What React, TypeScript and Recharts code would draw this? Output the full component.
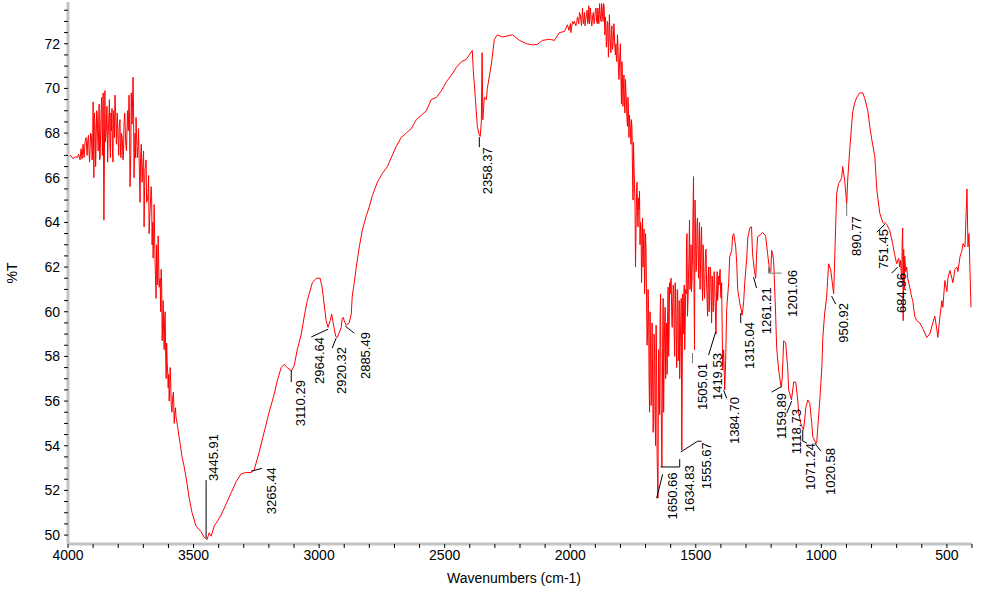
import { LineChart, Line, XAxis, YAxis, ReferenceLine, ReferenceDot } from 'recharts'

const FONT = '"Liberation Sans", Arial, sans-serif'

// [wavenumber cm-1, %T], high to low wavenumber
const noisyEdge: [number, number][] = [
  [4000, 66.9], [3990, 67.0], [3980, 66.85], [3970, 66.95], [3962, 66.9], [3958, 67.05], [3952, 66.8],
  [3948, 67.3], [3944, 66.85], [3940, 67.5], [3936, 66.9], [3932, 67.6], [3928, 67.8], [3924, 67.0],
  [3918, 67.9], [3914, 66.7], [3910, 68.0], [3904, 66.8], [3900, 69.4], [3897, 66.0], [3892, 68.3],
  [3888, 67.5], [3884, 68.9], [3880, 67.2], [3876, 69.3], [3872, 66.9], [3866, 69.6], [3860, 69.8],
  [3857, 64.1], [3853, 69.9], [3848, 68.0], [3842, 66.7], [3838, 68.5], [3833, 67.4], [3829, 68.9],
  [3825, 69.1], [3821, 66.7], [3817, 68.5], [3813, 69.7], [3807, 67.5], [3801, 67.9], [3796, 68.3],
  [3791, 67.2], [3787, 68.0], [3781, 66.8], [3777, 68.4], [3770, 67.5], [3763, 69.0], [3757, 69.7],
  [3753, 65.6], [3748, 69.8], [3741, 70.5], [3737, 66.0], [3733, 68.0], [3729, 68.7], [3724, 66.9],
  [3719, 68.2], [3713, 64.9], [3708, 67.5], [3701, 66.8], [3697, 63.8], [3693, 66.4], [3689, 66.8],
  [3684, 65.0], [3681, 65.3], [3677, 63.5], [3669, 65.6], [3665, 63.0], [3661, 62.4], [3657, 64.8],
  [3649, 60.6], [3645, 62.0], [3641, 63.4], [3637, 61.1], [3633, 61.5], [3629, 61.9], [3625, 58.7],
  [3621, 60.5], [3617, 58.3], [3613, 60.0], [3609, 57.0], [3605, 57.7], [3601, 56.6], [3597, 56.0],
  [3593, 57.5], [3589, 55.8], [3583, 56.2], [3577, 55.0], [3572, 55.7], [3570, 55.3], [3564, 54.9],
  [3558, 54.4], [3552, 54.0], [3546, 53.5],
]

// in-between wiggles of the noisy stretches
const edgeWiggles: [number, number][] = [
  [3934, 67.2], [3926, 67.4], [3921, 67.7], [3916, 67.1], [3907, 67.9], [3902, 67.2], [3895, 68.9],
  [3890, 66.5], [3886, 69.0], [3878, 68.2], [3874, 66.8], [3869, 68.6], [3863, 67.0], [3851, 67.6],
  [3845, 69.2], [3840, 67.9], [3835, 69.5], [3831, 66.9], [3827, 68.1], [3823, 67.3], [3819, 69.0],
  [3815, 67.8], [3810, 68.8], [3804, 68.9], [3798, 67.0], [3793, 68.6], [3789, 66.9], [3784, 67.8],
  [3779, 67.0], [3774, 68.9], [3767, 67.2], [3760, 68.1], [3755, 68.6], [3750, 67.0], [3745, 68.4],
  [3739, 69.1], [3735, 67.1], [3731, 66.9], [3727, 68.0], [3721, 67.4], [3716, 66.4], [3711, 66.9],
  [3705, 65.8], [3699, 67.2], [3695, 65.6], [3687, 64.9], [3679, 66.1], [3673, 64.6], [3667, 65.2],
  [3663, 64.0], [3659, 63.3], [3653, 62.1], [3647, 63.0], [3643, 61.2], [3639, 62.4], [3631, 60.0],
  [3627, 61.2], [3623, 59.5], [3619, 59.0], [3615, 59.7], [3611, 58.0], [3607, 58.6], [3603, 57.3],
  [3599, 57.2], [3595, 56.6], [3591, 56.9], [3586, 55.5], [3580, 56.4], [3575, 55.4],
]

const ohBand: [number, number][] = [
  [3538, 53.1], [3530, 52.6], [3518, 51.7], [3506, 51.0], [3490, 50.4], [3470, 50.15], [3458, 49.9],
  [3445.91, 49.8], [3438, 50.1], [3430, 49.95], [3418, 50.4], [3406, 50.6], [3390, 50.9], [3370, 51.4],
  [3350, 51.9], [3330, 52.4], [3310, 52.75], [3290, 52.8], [3271, 52.8], [3265.44, 52.85], [3259, 52.9],
  [3239, 53.7], [3219, 54.6], [3199, 55.5], [3179, 56.3], [3167, 56.9], [3151, 57.5], [3139, 57.65],
  [3127, 57.5], [3110.29, 57.35], [3099, 57.6], [3087, 58.3], [3071, 59.0], [3059, 59.8], [3047, 60.5],
  [3027, 61.3], [3011, 61.5],
]

const chBand: [number, number][] = [
  [2996, 61.5], [2988, 61.1], [2972, 59.6], [2964.64, 59.3], [2956, 59.6], [2950, 59.9], [2944, 59.5],
  [2934, 58.9], [2928, 58.85], [2920.32, 59.05], [2912, 59.3], [2908, 59.7], [2904, 59.75], [2900, 59.6],
  [2892, 59.4], [2885.49, 59.45], [2880, 59.5], [2872, 59.9], [2868, 60.7], [2860, 61.3], [2852, 62.0],
  [2840, 62.9], [2828, 63.65], [2812, 64.3], [2800, 64.7], [2788, 65.2], [2768, 65.8], [2748, 66.2],
  [2728, 66.5], [2709, 67.0], [2693, 67.4], [2673, 67.8], [2653, 68.0], [2633, 68.2], [2613, 68.6],
  [2593, 68.8], [2573, 69.0], [2553, 69.5], [2533, 69.6], [2513, 69.9], [2493, 70.3], [2473, 70.6],
  [2453, 70.95], [2433, 71.2], [2414, 71.3], [2402, 71.5], [2390, 71.7], [2386, 70.8], [2378, 69.6],
  [2370, 68.3], [2362, 67.9], [2358.37, 67.85], [2354, 68.5], [2351, 71.6], [2348, 68.6], [2342, 69.6],
  [2334, 69.5], [2330, 70.0], [2314, 71.1], [2302, 72.2], [2290, 72.4], [2270, 72.3], [2250, 72.35],
  [2230, 72.4], [2202, 72.15], [2174, 72.0], [2150, 71.95], [2131, 71.97], [2111, 72.15], [2083, 72.2],
  [2063, 72.15], [2043, 72.5], [2023, 72.55], [2011, 72.85],
]

const carbonylRegion: [number, number][] = [
  [2005, 72.6], [1999, 72.9], [1995, 72.7], [1990, 73.0], [1983, 73.0], [1978, 72.8], [1971, 73.2],
  [1966, 72.9], [1960, 73.3], [1955, 72.8], [1951, 73.6], [1947, 72.9], [1943, 73.4], [1938, 73.1],
  [1935, 73.3], [1930, 72.9], [1926, 73.7], [1923, 72.9], [1918, 73.4], [1914, 72.8], [1911, 73.2],
  [1905, 72.9], [1900, 73.5], [1895, 73.0], [1890, 73.6], [1886, 72.9], [1883, 73.8], [1879, 73.1],
  [1875, 73.8], [1871, 73.2], [1867, 73.8], [1862, 72.4], [1856, 71.85], [1852, 73.0], [1848, 71.4],
  [1844, 73.3], [1840, 72.0], [1836, 72.6], [1832, 71.75], [1828, 72.3], [1824, 72.4], [1820, 71.5],
  [1816, 71.3], [1812, 72.4], [1808, 70.9], [1804, 71.0], [1800, 72.0], [1796, 69.3], [1792, 70.5],
  [1788, 70.0], [1784, 69.3], [1780, 70.4], [1776, 69.4], [1772, 68.3], [1768, 69.0], [1764, 68.8],
  [1760, 68.0], [1756, 68.6], [1752, 66.25], [1748, 67.6], [1744, 65.7], [1740, 62.0], [1736, 65.3],
  [1732, 64.5], [1728, 65.1], [1724, 65.4], [1720, 64.0], [1716, 61.3], [1712, 64.2], [1708, 63.0],
  [1704, 60.8], [1700, 63.5], [1696, 60.5], [1692, 59.0], [1688, 60.2], [1684, 55.5], [1680, 58.3],
  [1676, 56.2], [1672, 57.2], [1668, 55.0], [1664, 58.0], [1660, 54.0], [1656, 57.8], [1650.66, 51.65],
  [1648, 58.3], [1644, 55.4], [1640, 60.8], [1634.83, 53.05], [1632, 58.4], [1628, 55.5], [1624, 59.5],
  [1620, 57.0], [1616, 59.5], [1612, 60.0], [1608, 58.0], [1604, 61.3], [1600, 61.4], [1596, 60.0],
  [1592, 60.4], [1588, 61.0], [1584, 58.0], [1580, 60.2], [1576, 57.5], [1572, 60.9], [1568, 58.0],
  [1564, 57.0], [1560, 59.5], [1555.67, 53.8], [1552, 60.8], [1548, 60.5], [1544, 58.3], [1540, 61.0],
  [1537, 62.9], [1533, 59.8], [1529, 61.5], [1525, 64.1], [1521, 61.5], [1517, 60.9], [1513, 62.5],
  [1509, 66.05], [1505.01, 58.3], [1501, 63.5], [1497, 62.0], [1493, 64.2], [1489, 61.5], [1485, 64.0],
  [1481, 62.2], [1477, 63.8], [1473, 60.5], [1469, 62.3], [1465, 60.6], [1461, 62.7], [1457, 61.3],
  [1453, 59.8], [1449, 62.0], [1445, 60.5], [1441, 61.9], [1437, 59.5], [1433, 61.3], [1429, 60.2],
  [1425, 61.5], [1419.53, 59.0], [1417, 61.0], [1413, 60.5], [1409, 61.6], [1405, 61.7], [1401, 60.8],
  [1397, 61.3], [1393, 57.4], [1389, 58.3], [1384.7, 56.5],
]

const carbonylWiggles: [number, number][] = [
  [1997, 72.5], [1987, 72.9], [1975, 72.9], [1963, 73.4], [1957, 73.0], [1949, 73.1], [1941, 72.8],
  [1933, 73.5], [1928, 73.0], [1920, 73.6], [1916, 73.0], [1908, 73.4], [1903, 73.0], [1897, 73.6],
  [1892, 72.9], [1888, 73.3], [1881, 73.4], [1877, 73.0], [1873, 73.6], [1869, 73.0], [1865, 73.7],
  [1860, 73.2], [1858, 72.8], [1854, 72.2], [1850, 72.9], [1846, 72.0], [1842, 72.5], [1838, 71.6],
  [1834, 72.8], [1830, 71.9], [1826, 72.9], [1822, 71.8], [1818, 72.0], [1814, 71.2], [1810, 72.0],
  [1806, 70.4], [1802, 71.6], [1798, 70.5], [1794, 71.2], [1790, 69.2], [1786, 70.6], [1782, 68.9],
  [1778, 69.8], [1774, 68.6], [1770, 69.6], [1766, 67.8], [1762, 68.5], [1758, 67.5], [1754, 68.2],
  [1750, 65.0], [1746, 66.5], [1742, 64.8], [1738, 63.5], [1734, 65.8], [1730, 63.8], [1726, 64.6],
  [1722, 63.0], [1718, 63.8], [1714, 62.5], [1710, 62.0], [1706, 63.7], [1702, 61.8], [1698, 62.7],
  [1694, 58.5], [1690, 61.0], [1686, 57.0], [1682, 60.0], [1678, 55.8], [1674, 59.5], [1670, 54.6],
  [1666, 59.0], [1662, 55.2], [1658, 59.4], [1654, 53.6], [1646, 56.5], [1642, 59.8], [1638, 56.0],
  [1630, 60.6], [1626, 57.8], [1622, 60.2], [1618, 58.4], [1614, 57.2], [1610, 61.1], [1606, 59.2],
  [1602, 60.8], [1598, 61.5], [1594, 59.3], [1590, 61.2], [1586, 59.0], [1582, 61.3], [1578, 59.0],
  [1574, 61.0], [1570, 57.8], [1566, 60.5], [1562, 58.4], [1558, 60.6], [1550, 59.0], [1546, 61.2],
  [1542, 59.5], [1538, 60.8], [1535, 63.5], [1531, 60.5], [1527, 62.5], [1523, 61.0], [1519, 63.0],
  [1515, 61.4], [1511, 64.5], [1507, 61.0], [1503, 65.0], [1499, 61.8], [1495, 64.0], [1491, 62.8],
  [1487, 63.0], [1483, 61.0], [1479, 63.2], [1475, 61.5], [1471, 63.0], [1467, 61.0], [1463, 61.8],
  [1459, 62.8], [1455, 60.6], [1451, 61.5], [1447, 60.0], [1443, 62.0], [1439, 60.8], [1435, 61.6],
  [1431, 60.0], [1427, 61.8], [1423, 60.5], [1415, 61.8], [1411, 60.9], [1407, 61.2], [1403, 61.9],
  [1399, 60.6],
]

const fingerprint: [number, number][] = [
  [1381, 57.8], [1377, 60.1], [1369, 61.3], [1365, 62.45], [1357, 62.75], [1353, 63.4], [1349, 63.5],
  [1341, 62.9], [1337, 62.2], [1333, 61.0], [1325, 60.4], [1315.04, 59.85], [1309, 60.5], [1305, 61.3],
  [1297, 62.4], [1293, 63.3], [1285, 63.75], [1278, 63.8], [1274, 62.6], [1266, 61.8], [1261.21, 61.5],
  [1258, 62.5], [1254, 63.35], [1242, 63.45], [1234, 63.55], [1222, 63.4], [1214, 62.6], [1205, 61.75],
  [1201.06, 61.8], [1198, 62.75], [1194, 62.6], [1190, 62.3], [1182, 59.9], [1178, 58.4], [1170, 57.4],
  [1159.89, 56.6], [1156, 57.0], [1150, 58.7], [1142, 58.6], [1134, 57.5], [1130, 56.5], [1118.73, 56.05],
  [1114, 56.5], [1110, 56.85], [1102, 56.85], [1094, 56.05], [1090, 55.45], [1082, 55.0], [1071.24, 54.7],
  [1066, 55.2], [1062, 55.7], [1054, 56.05], [1046, 55.9], [1038, 55.0], [1034, 54.4], [1020.58, 54.1],
  [1018, 54.2], [1014, 54.85], [1006, 56.05], [998, 57.5], [994, 58.85], [987, 59.9], [979, 60.65],
  [975, 61.4], [971, 62.15], [963, 61.9], [950.92, 60.8], [943, 63.8], [939, 65.3], [931, 65.75],
  [923, 65.9], [919, 66.0], [915, 66.5], [907, 65.9], [899, 64.85], [895, 65.9], [887, 67.25],
  [879, 68.4], [875, 68.95], [867, 69.35], [859, 69.6], [847, 69.8], [835, 69.8], [827, 69.55],
  [815, 69.0], [807, 68.3], [799, 67.7], [787, 66.95], [779, 65.45], [767, 64.4], [755, 64.0],
  [751.45, 63.95], [747, 64.0], [739, 63.9], [728, 63.65], [716, 63.05], [708, 62.55], [700, 62.15],
  [692, 62.4], [688, 62.0], [684.96, 62.3], [680, 61.5], [678, 63.2], [676, 63.75], [674, 59.6],
  [672, 62.8], [670, 61.0], [668, 62.5], [664, 61.8], [660, 62.0], [656, 61.5], [648, 61.1],
  [640, 60.65], [636, 60.5], [628, 59.8], [620, 59.6], [608, 59.5], [596, 59.25], [580, 58.85],
  [568, 59.0], [556, 59.5], [548, 59.8], [540, 59.2], [536, 58.85], [528, 59.75], [520, 60.5],
  [516, 60.2], [508, 61.4], [500, 60.9], [496, 61.5], [488, 61.85], [480, 61.5], [476, 61.3],
  [468, 61.9], [460, 62.0], [456, 61.8], [448, 62.45], [440, 62.75], [436, 63.05], [428, 62.9],
  [420, 65.5], [416, 62.9], [412, 63.5], [404, 60.2],
]

const spectrum = [
  ...noisyEdge, ...edgeWiggles, ...ohBand, ...chBand, ...carbonylRegion, ...carbonylWiggles, ...fingerprint,
]
  .sort((a, b) => b[0] - a[0])
  .map(([wn, t]) => ({ wn, t }))

const xMajor = [500, 1000, 1500, 2000, 2500, 3000, 3500, 4000]
const yMajor = [50, 52, 54, 56, 58, 60, 62, 64, 66, 68, 70, 72]
const xTicks = Array.from({ length: 37 }, (_, i) => 400 + i * 100)
const yTicks = Array.from({ length: 48 }, (_, i) => 50 + i * 0.5)

// peak picks: leader line (data coords), where the rotated label sits, and which end is pinned
type Peak = { label: string; path: [number, number][]; at: [number, number]; anchor: 'start' | 'end'; gray?: boolean }

const peaks: Peak[] = [
  { label: '3445.91', path: [[3450, 49.86], [3450, 52.46]], at: [3422, 52.42], anchor: 'start' },
  { label: '3265.44', path: [[3271, 52.86], [3227, 52.99]], at: [3191, 53.04], anchor: 'end' },
  { label: '3110.29', path: [[3111, 57.38], [3111, 56.85]], at: [3075, 56.94], anchor: 'end' },
  { label: '2964.64', path: [[2964, 59.22], [3031, 58.87]], at: [3000, 58.87], anchor: 'end' },
  { label: '2920.32', path: [[2932, 58.82], [2948, 58.37]], at: [2912, 58.42], anchor: 'end' },
  { label: '2885.49', path: [[2896, 59.36], [2860, 59.04]], at: [2816, 59.09], anchor: 'end' },
  { label: '2358.37', path: [[2362, 67.82], [2362, 67.37]], at: [2330, 67.37], anchor: 'end' },
  { label: '1650.66', path: [[1656, 51.65], [1632, 52.72]], at: [1592, 52.8], anchor: 'end' },
  { label: '1634.83', path: [[1640, 53.05], [1564, 53.05], [1564, 53.4]], at: [1525, 53.13], anchor: 'end' },
  { label: '1555.67', path: [[1560, 53.72], [1493, 54.2], [1477, 54.2]], at: [1457, 54.16], anchor: 'end' },
  { label: '1505.01', path: [[1513, 58.15], [1513, 57.7]], at: [1473, 57.7], anchor: 'end', gray: true },
  { label: '1419.53', path: [[1421, 59.09], [1449, 58.06]], at: [1413, 58.15], anchor: 'end' },
  { label: '1384.70', path: [[1389, 56.49], [1377, 56.13]], at: [1345, 56.18], anchor: 'end' },
  { label: '1315.04', path: [[1321, 59.94], [1321, 59.49]], at: [1285, 59.54], anchor: 'end' },
  { label: '1261.21', path: [[1270, 61.55], [1258, 61.06]], at: [1218, 61.1], anchor: 'end' },
  { label: '1201.06', path: [[1210, 62.0], [1210, 61.73], [1158, 61.73]], at: [1114, 61.87], anchor: 'end', gray: true },
  { label: '1159.89', path: [[1162, 56.63], [1198, 56.4]], at: [1158, 56.36], anchor: 'end' },
  { label: '1118.73', path: [[1118, 56.0], [1138, 55.46]], at: [1098, 55.64], anchor: 'end' },
  { label: '1071.24', path: [[1074, 54.7], [1074, 54.21], [1058, 54.12]], at: [1042, 54.12], anchor: 'end' },
  { label: '1020.58', path: [[1026, 54.12], [1002, 53.76]], at: [963, 53.9], anchor: 'end' },
  { label: '950.92', path: [[959, 60.7], [943, 60.34]], at: [911, 60.39], anchor: 'end' },
  { label: '890.77', path: [[899, 64.86], [899, 64.28]], at: [859, 64.28], anchor: 'end', gray: true },
  { label: '751.45', path: [[747, 63.92], [779, 63.56]], at: [751, 63.7], anchor: 'end' },
  { label: '684.96', path: [[696, 62.0], [720, 61.73]], at: [680, 61.73], anchor: 'end' },
]

const PeakText = ({ cx, cy, label, anchor }: any) => (
  <text
    x={cx}
    y={cy}
    transform={`rotate(-90 ${cx} ${cy})`}
    textAnchor={anchor}
    dominantBaseline="central"
    fontSize={13}
    fontFamily={FONT}
    fill="#000"
  >
    {label}
  </text>
)

export default function App() {
  return (
    <div style={{ position: 'absolute', left: 0, top: 0, background: '#fff' }}>
      <LineChart width={990} height={596} data={spectrum} margin={{ top: 2, right: 18, left: 0, bottom: 0 }}>
        <XAxis
          dataKey="wn"
          type="number"
          domain={[400, 4000]}
          reversed
          ticks={xTicks}
          interval={0}
          allowDataOverflow
          height={52}
          axisLine={{ stroke: '#c4c4c4', strokeWidth: 3 }}
          tickLine={{ stroke: '#000' }}
          tickSize={4}
          tickMargin={2}
          tick={{ fill: '#000', fontSize: 14, fontFamily: FONT }}
          tickFormatter={(v: number) => (xMajor.includes(v) ? String(v) : '')}
          label={{
            content: () => (
              <text x={514} y={583} textAnchor="middle" fontSize={14} fontFamily={FONT} fill="#000">
                Wavenumbers (cm-1)
              </text>
            ),
          }}
        />
        <YAxis
          type="number"
          domain={[49.6, 73.87]}
          ticks={yTicks}
          interval={0}
          allowDataOverflow
          width={68}
          axisLine={{ stroke: '#c4c4c4', strokeWidth: 3 }}
          tickLine={{ stroke: '#000' }}
          tickSize={4}
          tickMargin={4}
          tick={{ fill: '#000', fontSize: 14, fontFamily: FONT }}
          tickFormatter={(v: number) => (yMajor.includes(v) ? String(v) : '')}
          label={{
            content: () => (
              <text
                x={12}
                y={273}
                transform="rotate(-90 12 273)"
                textAnchor="middle"
                dominantBaseline="central"
                fontSize={14}
                fontFamily={FONT}
                fill="#000"
              >
                %T
              </text>
            ),
          }}
        />
        <Line
          dataKey="t"
          type="linear"
          stroke="#ff0000"
          strokeWidth={1}
          dot={false}
          isAnimationActive={false}
        />
        {peaks.map((p) =>
          p.path.slice(1).map((pt, i) => (
            <ReferenceLine
              key={`${p.label}-${i}`}
              segment={[
                { x: p.path[i][0], y: p.path[i][1] },
                { x: pt[0], y: pt[1] },
              ]}
              stroke={p.gray ? '#777' : '#000'}
              strokeWidth={1}
            />
          )),
        )}
        {peaks.map((p) => (
          <ReferenceDot
            key={p.label}
            x={p.at[0]}
            y={p.at[1]}
            shape={(props: any) => <PeakText cx={props.cx} cy={props.cy} label={p.label} anchor={p.anchor} />}
          />
        ))}
      </LineChart>
    </div>
  )
}
